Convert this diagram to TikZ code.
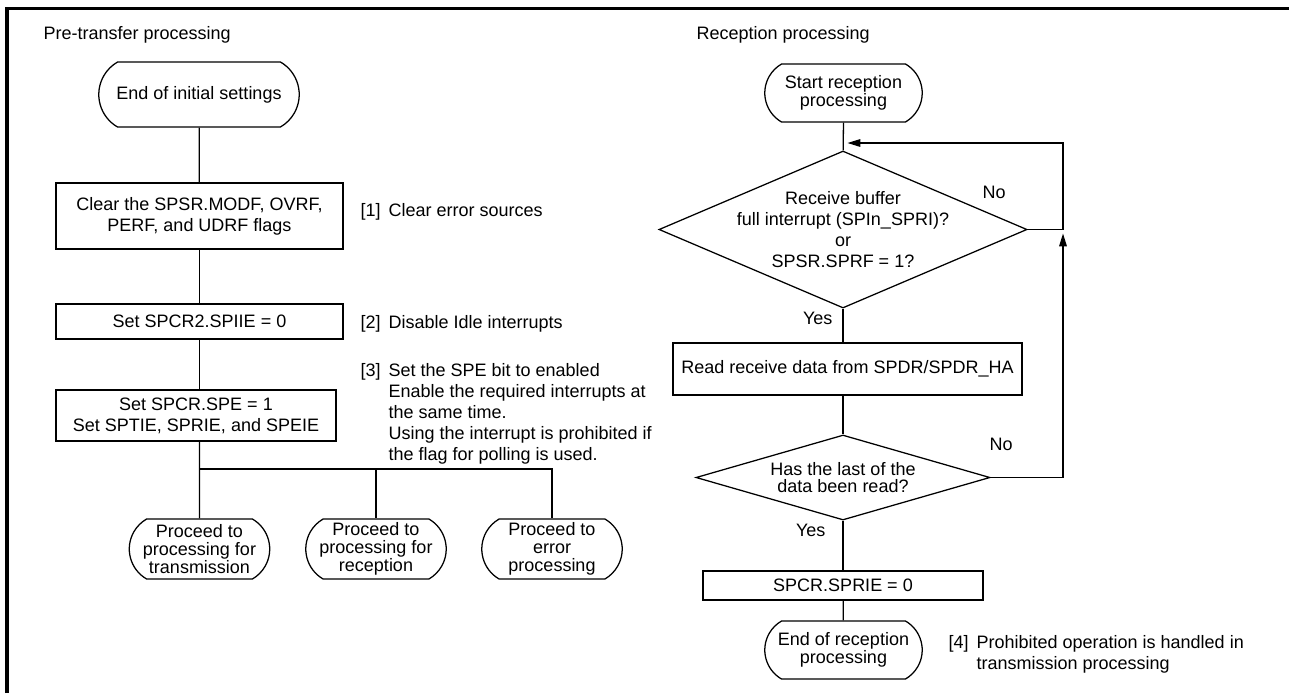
\documentclass[tikz,border=0pt]{standalone}
\usepackage{fontspec}
\setmainfont{Liberation Sans}
\usetikzlibrary{arrows.meta,shapes.geometric,shapes.misc,positioning}

\begin{document}
\begin{tikzpicture}[
  x=0.025cm, y=-0.025cm,
  font=\fontsize{12.8}{15}\selectfont,
  line width=0.9pt,
  proc/.style={draw, rectangle, align=center, inner sep=2pt},
  term/.style={draw, rounded rectangle, rounded rectangle arc length=120,
    align=center, inner sep=2pt},
  tight/.style={font=\fontsize{12.8}{12.6}\selectfont},
  dec/.style={draw, diamond, align=center, inner sep=-1cm},
  note/.style={anchor=base west, inner sep=0pt},
  tag/.style={inner sep=0pt},
  arr/.style={-{Triangle[length=3.2mm,width=1.9mm]}, shorten >=0.1cm}
]
\useasboundingbox (0,0) rectangle (1289,693);
\draw[line width=0.075cm] (7,693) -- (7,8.5) -- (1289,8.5);

% pre-transfer processing
\node[anchor=west, inner sep=0pt] (ttl1) at (43,35) {Pre-transfer processing};
\node[term, minimum width=5.15cm, minimum height=1.625cm] (init) at (199,94.5) {End of initial settings};
\node[proc, minimum width=7.175cm, minimum height=1.65cm] (clr) at (199.5,216) {Clear the SPSR.MODF, OVRF,\\PERF, and UDRF flags};
\node[proc, minimum width=7.175cm, minimum height=0.875cm] (idle) at (199.5,321.5) {Set SPCR2.SPIIE = 0};
\node[proc, minimum width=7cm, minimum height=1.275cm] (spe) at (196,415.5) {Set SPCR.SPE = 1\\Set SPTIE, SPRIE, and SPEIE};
\coordinate (fork) at (199.5,469);
\node[term, tight, minimum width=3.65cm, minimum height=1.5cm] (gotx) at (199.5,549) {Proceed to\\processing for\\transmission};
\node[term, tight, minimum width=3.65cm, minimum height=1.5cm] (gorx) at (376,549) {Proceed to\\processing for\\reception};
\node[term, tight, minimum width=3.65cm, minimum height=1.5cm] (goerr) at (552,549) {Proceed to\\error\\processing};

\node[note] (n1) at (360,216.5) {\makebox[0.7cm][l]{[1]}Clear error sources};
\node[note] (n2) at (360,328) {\makebox[0.7cm][l]{[2]}Disable Idle interrupts};
\node[note] (n3) at (360,376) {\begin{tabular}[t]{@{}p{0.7cm}@{}l@{}}
  [3]&Set the SPE bit to enabled\\
  &Enable the required interrupts at\\
  &the same time.\\
  &Using the interrupt is prohibited if\\
  &the flag for polling is used.
\end{tabular}};

\draw (init) -- (clr);
\draw (clr) -- (idle);
\draw (idle.south) -- (idle.south |- spe.north);
\draw (idle.south |- spe.south) -- (fork) -- (gotx);
\draw (fork) -| (gorx);
\draw (fork) -| (goerr);

% reception processing
\node[anchor=west, inner sep=0pt] (ttl2) at (696,35) {Reception processing};
\node[term, tight, minimum width=4.075cm, minimum height=1.45cm] (rxstart) at (843.5,93) {Start reception\\processing};
\node[dec, minimum width=9.2cm, minimum height=3.925cm] (chkfull) at (843,229.5) {Receive buffer\\full interrupt (SPIn\_SPRI)?\\or\\SPSR.SPRF = 1?};
\node[proc, minimum width=8.725cm, minimum height=1.3cm] (rddata) at (847.5,369) {Read receive data from SPDR/SPDR\_HA};
\node[dec, tight, minimum width=7.35cm, minimum height=2.125cm] (chklast) at (843,477.5) {Has the last of the\\data been read?};
\node[proc, minimum width=7cm, minimum height=0.725cm] (sprie) at (843,585.5) {SPCR.SPRIE = 0};
\node[term, tight, minimum width=4.075cm, minimum height=1.45cm] (rxend) at (843.5,650) {End of reception\\processing};
\coordinate (loop) at (1063,143);

\node[tag] (no1) at (994,192) {No};
\node[tag, anchor=east] (yes1) at (833,318) {Yes};
\node[tag] (no2) at (1001,444) {No};
\node[tag, anchor=east] (yes2) at (826,530) {Yes};
\node[note] (n4) at (948,648) {\begin{tabular}[t]{@{}p{0.7cm}@{}l@{}}
  [4]&Prohibited operation is handled in\\
  &transmission processing
\end{tabular}};

\draw (rxstart) -- (chkfull);
\draw (chkfull.south) -- (chkfull.south |- rddata.north);
\draw (chkfull.south |- rddata.south) -- (chklast);
\draw (chklast) -- (sprie);
\draw (sprie) -- (rxend);
\draw[arr] (chkfull.east) -- (chkfull.east -| loop) -- (loop) -- (rxstart.south |- loop);
\draw[arr] (chklast.east) -- (chklast.east -| loop) -- (chkfull.east -| loop);
\end{tikzpicture}
\end{document}
